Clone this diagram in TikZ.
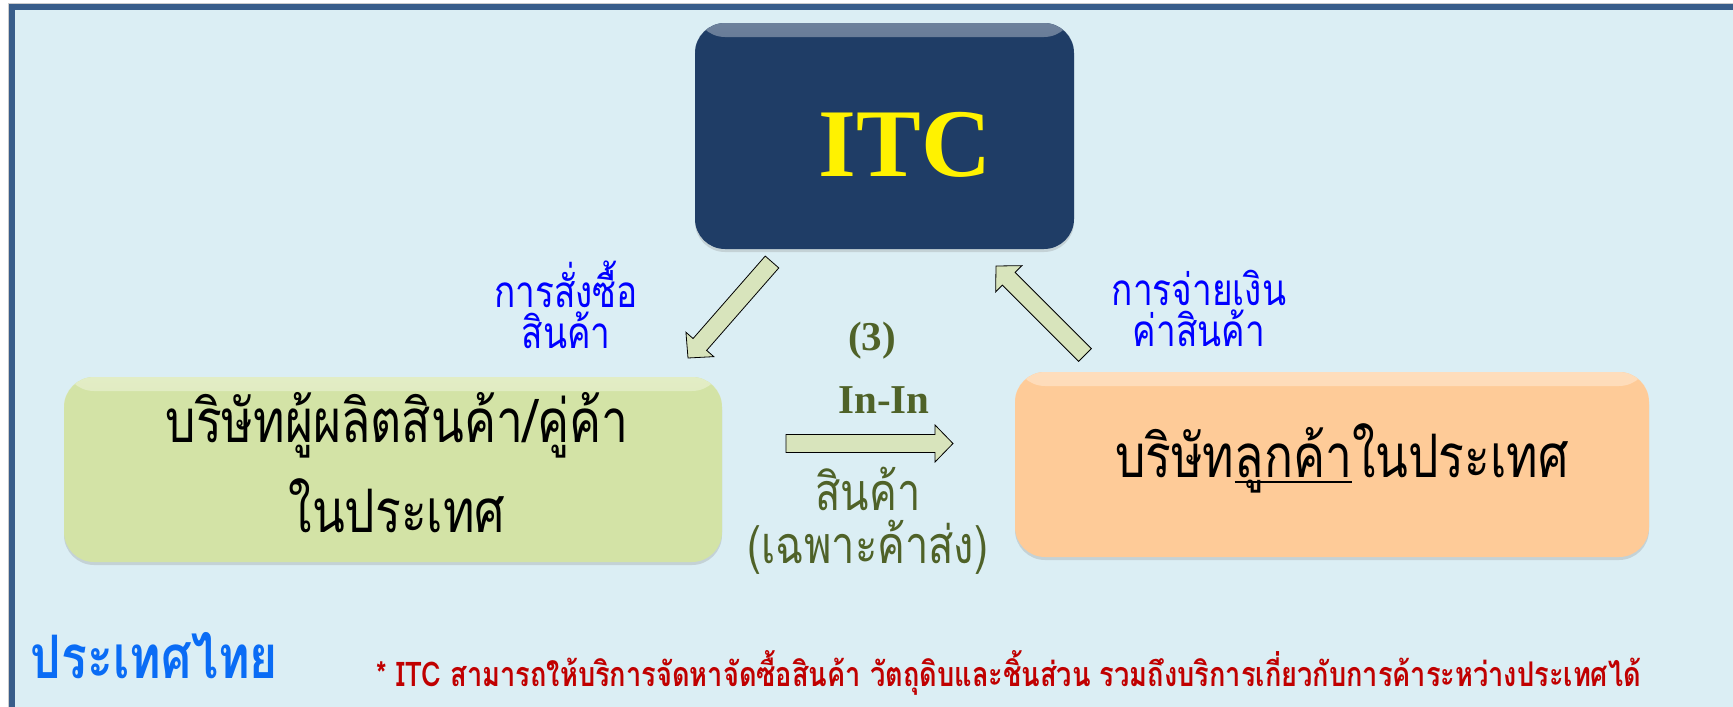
\documentclass[tikz,border=0pt]{standalone}
\usepackage{fontspec}
\setmainfont{Liberation Serif}
\newfontfamily\thaifont[Script=Thai,FakeStretch=0.8]{Loma}
\usepackage{tikz}
\usetikzlibrary{calc,positioning,shadows}
\definecolor{bgblue}{HTML}{DBEEF4}
\definecolor{frameblue}{HTML}{385D8A}
\definecolor{itcnavy}{HTML}{1F3D66}
\definecolor{makergreen}{HTML}{D3E3A6}
\definecolor{clientorange}{HTML}{FECB98}
\definecolor{arrowgreen}{HTML}{D8E4BC}
\definecolor{olivetext}{HTML}{4F6228}
\definecolor{notered}{HTML}{C00000}
\definecolor{thaiblue}{HTML}{0A6CF5}
\newcommand{\thaiuline}[1]{\setbox0\hbox{#1}\rlap{\rule[-6pt]{\wd0}{1.8pt}}#1}

\begin{document}
\begin{tikzpicture}[x=1pt,y=-1pt,
	box/.style={rounded corners=30pt, inner sep=0pt, fill=#1,
		drop shadow={shadow xshift=0pt,shadow yshift=-3pt,opacity=0.25},
		path picture={\shade[top color=#1!65!white, bottom color=#1]
			(path picture bounding box.north west) rectangle ([yshift=-14pt]path picture bounding box.north east);}},
	blockarrow/.style={fill=arrowgreen, draw=black, line width=0.8pt},
	boxtext/.style={font=\thaifont\fontsize{60}{90}\selectfont, align=center, inner sep=0pt},
	bluelabel/.style={text=blue, font=\thaifont\fontsize{44}{41}\selectfont, align=center, inner sep=0pt},
	olivelabel/.style={text=olivetext, font=\thaifont\fontsize{52}{53}\selectfont, align=center, inner sep=0pt},
	olivebold/.style={text=olivetext, font=\fontsize{41}{41}\selectfont\bfseries, inner sep=0pt}]
	\useasboundingbox (0,0) rectangle (1733,707);
	\fill[white] (0,0) rectangle (1733,707);
	\fill[bgblue] (12,7) rectangle (1733,707);
	\draw[black!20, line width=1pt] (8.5,707) -- (8.5,3.5) -- (1733,3.5);
	\draw[frameblue, line width=5.5pt, line join=miter] (12,707) -- (12,7) -- (1733,7);
	% boxes
	\node[box=itcnavy, minimum width=379pt, minimum height=226pt] (itc) at (884.5,136) {};
	\node[box=makergreen, minimum width=658pt, minimum height=185pt] (maker) at (393,469.5) {};
	\node[box=clientorange, minimum width=634pt, minimum height=185pt] (client) at (1332,464.5) {};
	\node[anchor=base, text=yellow, font=\fontsize{97}{97}\selectfont\bfseries, inner sep=0pt] (itcname) at (905,176) {ITC};
	\node[boxtext, anchor=base] (makername) at (397,532) {บริษัทผู้ผลิตสินค้า/คู่ค้า\\ในประเทศ};
	\node[boxtext, anchor=base] (clientname) at (1342,477) {บริษัท\thaiuline{ลูกค้า}ในประเทศ};
	% arrows
	\coordinate (ordS) at (772,262);
	\coordinate (ordE) at (688,358);
	\coordinate (payS) at (1085,355);
	\coordinate (payE) at (996,266);
	\coordinate (goodS) at (786,443.5);
	\coordinate (goodE) at (953,443.5);
	\foreach \s/\e in {ordS/ordE, payS/payE, goodS/goodE}{
		\coordinate (hb) at ($(\e)!18pt!(\s)$);
		\draw[blockarrow] ($(\s)!9pt!90:(\e)$) -- ($(hb)!9pt!90:(\e)$) -- ($(hb)!18.5pt!90:(\e)$)
			-- (\e) -- ($(hb)!18.5pt!-90:(\e)$) -- ($(hb)!9pt!-90:(\e)$) -- ($(\s)!9pt!-90:(\e)$) -- cycle;
	}
	% labels
	\node[bluelabel, anchor=base] (order) at (566,348) {การสั่งซื้อ\\สินค้า};
	\node[bluelabel, anchor=base] (pay) at (1199,346) {การจ่ายเงิน\\ค่าสินค้า};
	\node[olivebold] (three) at (872,341) {(3)};
	\node[olivebold] (inin) at (884,400) {In-In};
	\node[olivelabel, anchor=base] (goods) at (868,563) {สินค้า\\(เฉพาะค้าส่ง)};
	\node[anchor=base, text=thaiblue, font=\thaifont\fontsize{60}{60}\selectfont\bfseries, inner sep=0pt] (thai) at (154.5,678) {ประเทศไทย};
	\node[anchor=base, text=notered, font=\thaifont\fontsize{34}{34}\selectfont\bfseries, inner sep=0pt] (note) at (1009,686) {* ITC สามารถให้บริการจัดหาจัดซื้อสินค้า วัตถุดิบและชิ้นส่วน รวมถึงบริการเกี่ยวกับการค้าระหว่างประเทศได้};
\end{tikzpicture}
\end{document}
